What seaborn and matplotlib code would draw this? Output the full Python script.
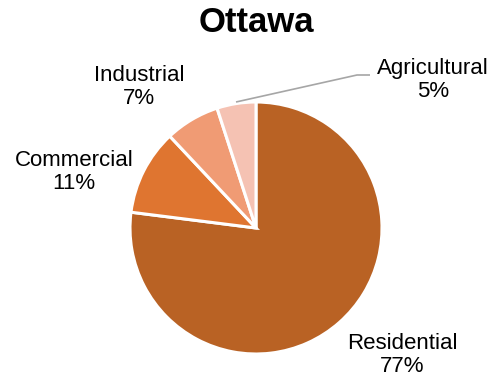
"""plot.py
Land use share pie chart for Ottawa.
"""

# Imports
import matplotlib.pyplot as plt
import seaborn as sns

# Data
categories = ['Residential', 'Commercial', 'Industrial', 'Agricultural']
shares = [77, 11, 7, 5]
colors = ['#B96224', '#DF7530', '#F09B74', '#F5C2B3']

# Theme
sns.set_theme(style='white')
plt.rcParams['font.family'] = ['Liberation Sans', 'DejaVu Sans']

# Create figure (pie radius = 1 data unit = 126 px)
fig = plt.figure(figsize=(4.97, 3.82), dpi=100)
ax = fig.add_axes([0, 0, 1, 1])
R = 126.0
cx, cy = 256.0, 228.0


def px(x, y):
    # pixel position -> data coords
    return (x - cx) / R, (cy - y) / R


ax.pie(shares, colors=colors, startangle=90, counterclock=False,
       wedgeprops={'edgecolor': 'white', 'linewidth': 2.2})
ax.set_xlim(-cx / R, (497 - cx) / R)
ax.set_ylim(-(382 - cy) / R, cy / R)
ax.set_aspect('equal')
ax.axis('off')

# Labels
label_pos = [(402, 355), (74, 172), (139, 87), (433, 80)]
for name, val, (lx, ly) in zip(categories, shares, label_pos):
    x, y = px(lx, ly)
    ax.text(x, y, f"{name}\n{val}%", ha='center', va='center',
            fontsize=16, linespacing=1.1, color='black')

# Leader line for Agricultural
pts = [px(236, 102), px(357, 75), px(370, 75)]
ax.plot([p[0] for p in pts], [p[1] for p in pts], color='#A6A6A6',
        linewidth=1.2, solid_capstyle='butt')

# Title
tx, ty = px(256, 23)
ax.text(tx, ty, 'Ottawa', ha='center', va='center', fontsize=25,
        fontweight='bold', color='black')

plt.savefig('out.png', dpi=100)
